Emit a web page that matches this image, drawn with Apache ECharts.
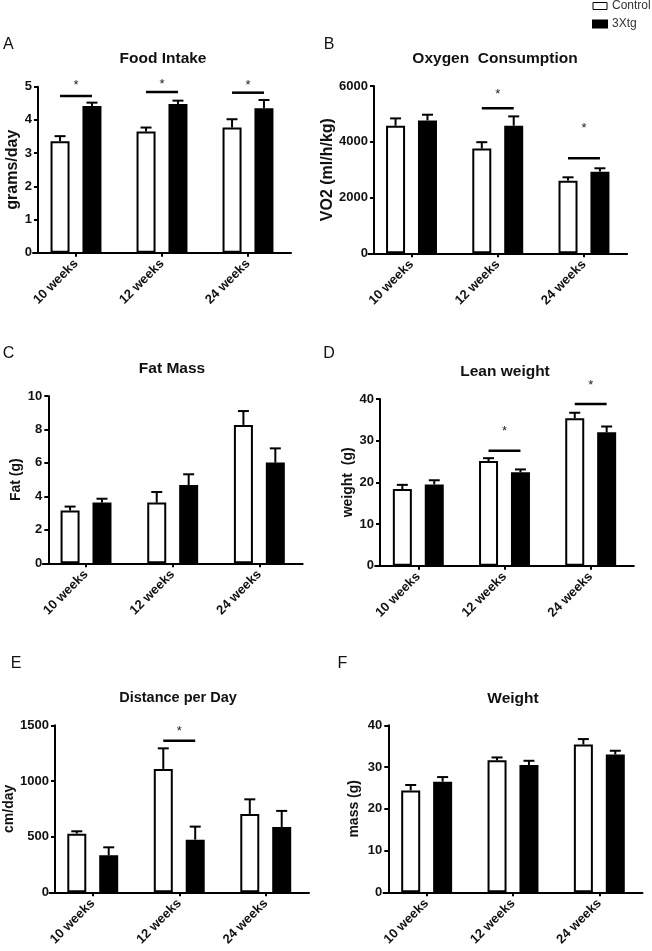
<!DOCTYPE html>
<html><head><meta charset="utf-8">
<script src="https://cdn.jsdelivr.net/npm/echarts@6/dist/echarts.min.js"></script>
<style>html,body{margin:0;padding:0;background:#fff}#c{width:652px;height:951px}</style>
</head><body><div id="c"></div>
<script>
const FONT = '"Liberation Sans", Arial, Helvetica, sans-serif';
const categories = ['10 weeks', '12 weeks', '24 weeks'];
const seriesNames = ['Control', '3Xtg'];

// A: Food Intake
const foodTicks = [0, 1, 2, 3, 4, 5];
const foodControl = [3.36, 3.65, 3.77];
const foodControlSem = [0.15, 0.12, 0.25];
const foodTg = [4.42, 4.48, 4.35];
const foodTgSem = [0.10, 0.10, 0.25];
const foodSigCats = [0, 1, 2];
const foodSigLine = [4.72, 4.84, 4.82];
const foodSigStar = [5.12, 5.15, 5.12];

// B: Oxygen Consumption
const o2Ticks = [0, 2000, 4000, 6000];
const o2Control = [4574, 3757, 2605];
const o2ControlSem = [264, 228, 120];
const o2Tg = [4766, 4574, 2929];
const o2TgSem = [204, 336, 120];
const o2SigCats = [1, 2];
const o2SigLine = [5198, 3409];
const o2SigStar = [5800, 4580];

// C: Fat Mass
const fatTicks = [0, 2, 4, 6, 8, 10];
const fatControl = [3.15, 3.63, 8.27];
const fatControlSem = [0.24, 0.63, 0.83];
const fatTg = [3.63, 4.68, 6.02];
const fatTgSem = [0.23, 0.64, 0.85];
const fatSigCats = [];
const fatSigLine = [];
const fatSigStar = [];

// D: Lean weight
const leanTicks = [0, 10, 20, 30, 40];
const leanControl = [18.4, 25.1, 35.4];
const leanControlSem = [1.0, 0.7, 1.3];
const leanTg = [19.5, 22.4, 32.0];
const leanTgSem = [1.0, 0.7, 1.4];
const leanSigCats = [1, 2];
const leanSigLine = [27.6, 38.8];
const leanSigStar = [33.0, 43.9];

// E: Distance per Day
const distTicks = [0, 500, 1000, 1500];
const distControl = [527, 1108, 704];
const distControlSem = [21, 185, 131];
const distTg = [332, 473, 587];
const distTgSem = [72, 117, 144];
const distSigCats = [1];
const distSigLine = [1362];
const distSigStar = [1473];

// F: Weight
const massTicks = [0, 10, 20, 30, 40];
const massControl = [24.4, 31.6, 35.4];
const massControlSem = [1.3, 0.7, 1.3];
const massTg = [26.5, 30.5, 33.0];
const massTgSem = [1.1, 1.0, 0.9];
const massSigCats = [];
const massSigLine = [];
const massSigStar = [];

const panels = [
  {letter: 'A', title: 'Food Intake', yName: 'grams/day', ticks: foodTicks, ctrl: foodControl, ctrlSem: foodControlSem, tg: foodTg, tgSem: foodTgSem, sigCats: foodSigCats, sigLine: foodSigLine, sigStar: foodSigStar},
  {letter: 'B', title: 'Oxygen  Consumption', yName: 'VO2 (ml/h/kg)', ticks: o2Ticks, ctrl: o2Control, ctrlSem: o2ControlSem, tg: o2Tg, tgSem: o2TgSem, sigCats: o2SigCats, sigLine: o2SigLine, sigStar: o2SigStar},
  {letter: 'C', title: 'Fat Mass', yName: 'Fat (g)', ticks: fatTicks, ctrl: fatControl, ctrlSem: fatControlSem, tg: fatTg, tgSem: fatTgSem, sigCats: fatSigCats, sigLine: fatSigLine, sigStar: fatSigStar},
  {letter: 'D', title: 'Lean weight', yName: 'weight  (g)', ticks: leanTicks, ctrl: leanControl, ctrlSem: leanControlSem, tg: leanTg, tgSem: leanTgSem, sigCats: leanSigCats, sigLine: leanSigLine, sigStar: leanSigStar},
  {letter: 'E', title: 'Distance per Day', yName: 'cm/day', ticks: distTicks, ctrl: distControl, ctrlSem: distControlSem, tg: distTg, tgSem: distTgSem, sigCats: distSigCats, sigLine: distSigLine, sigStar: distSigStar},
  {letter: 'F', title: 'Weight', yName: 'mass (g)', ticks: massTicks, ctrl: massControl, ctrlSem: massControlSem, tg: massTg, tgSem: massTgSem, sigCats: massSigCats, sigLine: massSigLine, sigStar: massSigStar}
];

// layout (pixels)
const layout = [
  {left: 33, top: 86.7, width: 258, height: 166, yOff: -5, nameGap: 16, nameSize: 16, letter: [8.3, 45], title: [163, 59], tSize: 15.5},
  {left: 368.4, top: 86, width: 258.7, height: 167.3, yOff: -5.6, nameGap: 38, nameSize: 16, letter: [329, 44.5], title: [495, 58.3], tSize: 15.5},
  {left: 42.7, top: 396, width: 260, height: 167.3, yOff: -5.6, nameGap: 25, nameSize: 14, letter: [8.5, 354], title: [172, 368.3], tSize: 15.5},
  {left: 375.2, top: 399, width: 258.6, height: 166.7, yOff: -4.8, nameGap: 25, nameSize: 14, letter: [329, 354], title: [505, 371.7], tSize: 15.5},
  {left: 49.5, top: 725.3, width: 259.5, height: 167, yOff: -5.5, nameGap: 39, nameSize: 14, letter: [16, 664], title: [178, 698.3], tSize: 14.5},
  {left: 383.5, top: 725.3, width: 259, height: 167, yOff: -4.8, nameGap: 27, nameSize: 14, letter: [342.5, 664], title: [513, 698.3], tSize: 15.5}
];

const BAR_W = 19;
const BAR_GAP = 0.68;
const OFF = (BAR_W + BAR_W * BAR_GAP) / 2;

function errRender(params, api) {
  const cat = api.value(0), side = api.value(1);
  const p0 = api.coord([cat, api.value(2)]);
  const p1 = api.coord([cat, api.value(3)]);
  const x = p0[0] + (side === 0 ? -OFF : OFF);
  return {type: 'group', children: [
    {type: 'line', shape: {x1: x, y1: p0[1], x2: x, y2: p1[1]}, style: {stroke: '#000', lineWidth: 2}},
    {type: 'line', shape: {x1: x - 5.5, y1: p1[1], x2: x + 5.5, y2: p1[1]}, style: {stroke: '#000', lineWidth: 2}}
  ]};
}
function sigRender(params, api) {
  const cat = api.value(0);
  const l = api.coord([cat, api.value(1)]);
  const s = api.coord([cat, api.value(2)]);
  return {type: 'group', children: [
    {type: 'line', shape: {x1: l[0] - OFF, y1: l[1], x2: l[0] + OFF, y2: l[1]}, style: {stroke: '#000', lineWidth: 2.5}},
    {type: 'text', x: s[0], y: s[1] + 3, style: {text: '*', font: '13px ' + FONT, fill: '#222', align: 'center', verticalAlign: 'middle'}}
  ]};
}

const grid = [], xAxis = [], yAxis = [], series = [], graphic = [];
panels.forEach((p, i) => {
  const L = layout[i];
  grid.push({left: L.left, top: L.top, width: L.width, height: L.height, containLabel: false});
  xAxis.push({
    type: 'category', gridIndex: i, data: categories, boundaryGap: true,
    axisLine: {show: true, onZero: false, lineStyle: {color: '#000', width: 2}},
    axisTick: {show: true, alignWithLabel: true, length: 4, lineStyle: {color: '#000', width: 2}},
    axisLabel: {rotate: 45, interval: 0, margin: 9, fontSize: 13, fontWeight: 'bold', color: '#111', fontFamily: FONT},
    splitLine: {show: false}
  });
  const t = p.ticks;
  yAxis.push({
    type: 'value', gridIndex: i, min: t[0], max: t[t.length - 1], interval: t[1] - t[0], offset: L.yOff,
    axisLine: {show: true, lineStyle: {color: '#000', width: 2}},
    axisTick: {show: true, length: 4, lineStyle: {color: '#000', width: 2}},
    axisLabel: {margin: 6, fontSize: 13, fontWeight: 'bold', color: '#111', fontFamily: FONT, formatter: v => String(v)},
    splitLine: {show: false},
    name: p.yName, nameLocation: 'middle', nameGap: L.nameGap, nameRotate: 90,
    nameTextStyle: {fontSize: L.nameSize, fontWeight: 'bold', color: '#111', fontFamily: FONT}
  });
  series.push({
    type: 'bar', name: seriesNames[0], xAxisIndex: i, yAxisIndex: i, data: p.ctrl,
    barWidth: BAR_W, barGap: (BAR_GAP * 100) + '%',
    itemStyle: {color: '#fff', borderColor: '#000', borderWidth: 2}
  });
  series.push({
    type: 'bar', name: seriesNames[1], xAxisIndex: i, yAxisIndex: i, data: p.tg,
    barWidth: BAR_W, barGap: (BAR_GAP * 100) + '%',
    itemStyle: {color: '#000', borderColor: '#000', borderWidth: 2}
  });
  const errData = [];
  p.ctrl.forEach((v, k) => errData.push([k, 0, v, v + p.ctrlSem[k]]));
  p.tg.forEach((v, k) => errData.push([k, 1, v, v + p.tgSem[k]]));
  series.push({type: 'custom', name: 'err' + i, xAxisIndex: i, yAxisIndex: i, data: errData, renderItem: errRender, z: 5, clip: false});
  if (p.sigCats.length) {
    const sigData = p.sigCats.map((c, k) => [c, p.sigLine[k], p.sigStar[k]]);
    series.push({type: 'custom', name: 'sig' + i, xAxisIndex: i, yAxisIndex: i, data: sigData, renderItem: sigRender, z: 5, clip: false});
  }
  graphic.push({type: 'text', x: L.letter[0], y: L.letter[1], style: {text: p.letter, font: '16px ' + FONT, fill: '#111', align: 'center', verticalAlign: 'middle'}});
  graphic.push({type: 'text', x: L.title[0], y: L.title[1], style: {text: p.title, font: 'bold ' + L.tSize + 'px ' + FONT, fill: '#111', align: 'center', verticalAlign: 'middle'}});
});

const chart = echarts.init(document.getElementById('c'), null, {renderer: 'canvas'});
chart.setOption({
  animation: false,
  backgroundColor: '#fff',
  legend: {
    orient: 'vertical', left: 592, top: 0, padding: 0, itemWidth: 14, itemHeight: 7, itemGap: 6, icon: 'rect',
    selectedMode: false,
    textStyle: {fontSize: 12, color: '#333', lineHeight: 10, fontFamily: FONT},
    data: [{name: 'Control', itemStyle: {borderWidth: 1}}, {name: '3Xtg'}]
  },
  grid, xAxis, yAxis, series, graphic
});
</script></body></html>
